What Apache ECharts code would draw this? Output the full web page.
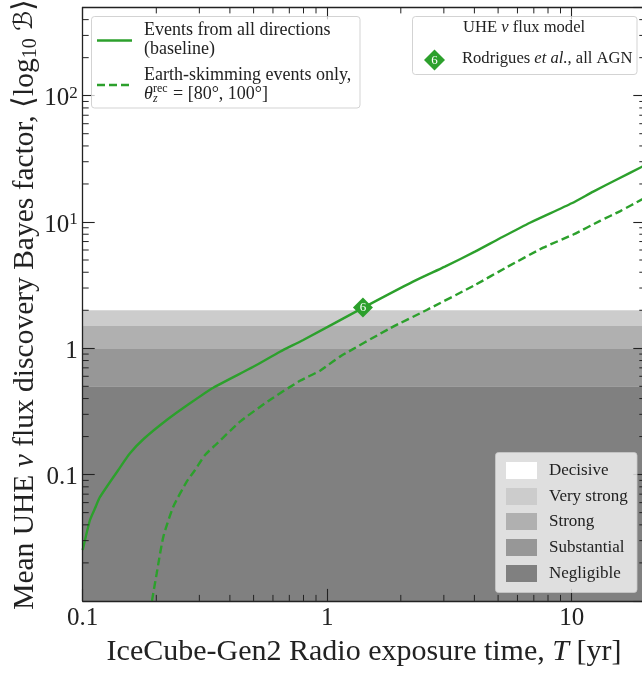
<!DOCTYPE html>
<html><head><meta charset="utf-8">
<style>html,body{margin:0;padding:0;background:#fff;overflow:hidden}#c{width:642px;height:675px}</style>
<script src="https://cdn.jsdelivr.net/npm/echarts@6/dist/echarts.min.js"></script>
</head><body><div id="c"></div>
<script>
const allDirectionsX=[0.1,0.1071,0.1123,0.1177,0.1398,0.1561,0.177,0.2206,0.2747,0.342,0.4986,0.641,0.798,1.405,2.244,3.03,4.02,5.09,6.75,10,12.25,15.3,19.4,20];
const allDirectionsY=[0.0253,0.0437,0.0541,0.0665,0.1087,0.1475,0.1905,0.2704,0.367,0.4875,0.714,0.94,1.164,2.097,3.37,4.43,5.82,7.43,9.87,14.06,17.4,21.7,27.4,28.2];
const skimmingX=[0.192,0.2008,0.2137,0.2347,0.2663,0.288,0.3164,0.3476,0.44,0.583,0.774,0.935,1.128,1.807,2.552,4.02,5.42,7.65,10.15,13.06,15.8,19.4,20];
const skimmingY=[0.01,0.01656,0.0322,0.0557,0.0879,0.1087,0.1429,0.17,0.2624,0.39,0.553,0.665,0.859,1.439,2.01,3.17,4.38,6.26,7.96,10.2,12.2,15.1,15.6];
const markerPoint=[1.4,2.1];
const bandNames=['Decisive','Very strong','Strong','Substantial','Negligible'];
const bandEdges=[0.01,0.5,1,1.5,2];
const bandColors=['#808080','#979797','#b0b0b0','#cccccc'];
const swatchColors=['#ffffff','#cccccc','#b0b0b0','#979797','#808080'];
const xMinorTicks=[0.2,0.3,0.4,0.5,0.6,0.7,0.8,0.9,2,3,4,5,6,7,8,9,20];
const yMinorTicks=[0.02,0.03,0.04,0.05,0.06,0.07,0.08,0.09,0.2,0.3,0.4,0.5,0.6,0.7,0.8,0.9,2,3,4,5,6,7,8,9,20,30,40,50,60,70,80,90,200,300,400];
const xMajorLabels={0.1:'0.1',1:'1',10:'10'};
const yMajorLabels={0.1:'{n|0.1}',1:'{n|1}',10:'{n|10}{s|1}',100:'{n|10}{s|2}'};

const F='"Liberation Serif",serif';
const GREEN='#2ca02c', INK='#222222';
const XMIN=0.1,XMAX=20,YMIN=0.01,YMAX=500;
const LF=18, LF2=16.6;
const legendRich={i:{fontFamily:F,fontSize:LF2,fontStyle:'italic',fill:INK},t:{fontFamily:F,fontSize:LF2,fill:INK}};

function hText(x,y,style){return {type:'text',x,y,z:60,zlevel:1,silent:true,style:Object.assign({font:LF+'px '+F,fill:INK,textVerticalAlign:'middle',rich:legendRich},style)};}
function box(x,y,w,h){return {type:'rect',z:50,zlevel:1,silent:true,shape:{x,y,width:w,height:h,r:3},style:{fill:'rgba(255,255,255,0.75)',stroke:'rgba(200,200,200,0.8)',lineWidth:1}};}

const graphics=[
 box(91.5,16.5,268.5,91.5),
 {type:'line',z:60,zlevel:1,silent:true,shape:{x1:97,y1:40.5,x2:132,y2:40.5},style:{stroke:GREEN,lineWidth:2.4}},
 {type:'line',z:60,zlevel:1,silent:true,shape:{x1:97,y1:85,x2:132,y2:85},style:{stroke:GREEN,lineWidth:2.4,lineDash:[8,4]}},
 hText(144,30,{text:'Events from all directions'}),
 hText(144,49,{text:'(baseline)'}),
 hText(144,75,{text:'Earth-skimming events only,'}),
 hText(144,94,{text:'θ',font:'italic '+LF+'px '+F}),
 hText(153,89,{text:'rec',font:'12px '+F}),
 hText(153,99,{text:'z',font:'italic 12px '+F}),
 hText(173,94,{text:'= [80°, 100°]'}),
 box(412.5,16.5,224.5,58),
 hText(463,28,{text:'{t|UHE }{i|ν}{t| flux model}'}),
 {type:'polygon',z:60,zlevel:1,silent:true,shape:{points:[[434.5,49.5],[445,60],[434.5,70.5],[424,60]]},style:{fill:GREEN}},
 hText(434.5,60.5,{text:'6',fill:'#ffffff',font:'13px '+F,textAlign:'center'}),
 hText(462,59,{text:'{t|Rodrigues }{i|et al.}{t|, all AGN}'}),
 box(495.5,452.5,141.5,140)
];
const swatchTops=[462,488,513,539,565];
bandNames.forEach((n,i)=>{
 graphics.push({type:'rect',z:60,zlevel:1,silent:true,shape:{x:506,y:swatchTops[i],width:31,height:17},style:{fill:swatchColors[i]}});
 graphics.push(hText(549,swatchTops[i]+9,{text:n,font:'17px '+F}));
});

const tickSeries=(vals,dir)=>({
 type:'custom',coordinateSystem:'cartesian2d',z:6,silent:true,clip:false,
 data:vals.map(v=>[v]),encode:{x:-1,y:-1},
 renderItem(params,api){
  const v=api.value(0),L=6,out=[];
  const seg=(a,b)=>({type:'line',shape:{x1:a[0],y1:a[1],x2:b[0],y2:b[1]},style:{stroke:INK,lineWidth:1}});
  if(dir==='x'){
   const a=api.coord([v,YMIN]),b=api.coord([v,YMAX]);
   out.push(seg(a,[a[0],a[1]-L]),seg(b,[b[0],b[1]+L]));
  }else{
   const a=api.coord([XMIN,v]),b=api.coord([XMAX,v]);
   out.push(seg(a,[a[0]+L,a[1]]),seg(b,[b[0]-L,b[1]]));
  }
  return {type:'group',children:out};
 }
});

const zip=(a,b)=>a.map((v,i)=>[v,b[i]]);
const axisLine={show:true,onZero:false,lineStyle:{color:INK,width:1.3}};
const axisTick={show:true,inside:true,length:12,lineStyle:{color:INK,width:1.1}};

const chart=echarts.init(document.getElementById('c'),null,{renderer:'canvas'});
chart.setOption({
 animation:false,backgroundColor:'#fff',
 grid:{left:82.7,top:7.4,width:562.6,height:593.5,containLabel:false,outerBoundsMode:'none'},
 xAxis:[
  {type:'log',logBase:10,min:XMIN,max:XMAX,position:'bottom',z:5,axisLine,axisTick,splitLine:{show:false},minorTick:{show:false},
   axisLabel:{show:true,margin:5,color:INK,fontFamily:F,fontSize:25,showMinLabel:true,showMaxLabel:false,hideOverlap:false,
    formatter:v=>xMajorLabels[+(+v).toPrecision(3)]||''},
   name:'IceCube-Gen2 Radio exposure time, {i|T} [yr]',nameLocation:'middle',nameGap:36,
   nameTextStyle:{color:INK,fontFamily:F,fontSize:30,rich:{i:{fontStyle:'italic',fontFamily:F,fontSize:30,color:INK}}}},
  {type:'log',logBase:10,min:XMIN,max:XMAX,position:'top',z:5,axisLine,axisTick,splitLine:{show:false},axisLabel:{show:false}}
 ],
 yAxis:[
  {type:'log',logBase:10,min:YMIN,max:YMAX,position:'left',z:5,axisLine,axisTick,splitLine:{show:false},
   axisLabel:{show:true,margin:5,padding:[6,0,0,0],color:INK,fontFamily:F,showMinLabel:false,showMaxLabel:false,hideOverlap:false,
    rich:{n:{fontFamily:F,fontSize:25,color:INK},s:{fontFamily:F,fontSize:17,color:INK,verticalAlign:'top',padding:[0,0,10,0]}},
    formatter:v=>yMajorLabels[+(+v).toPrecision(3)]||''},
   name:'Mean UHE {i|ν} flux discovery Bayes factor, ⟨log{sub|10} {b|ℬ}⟩',nameLocation:'middle',nameGap:42,nameRotate:90,nameMoveOverlap:false,
   nameTextStyle:{color:INK,fontFamily:F,fontSize:29.5,rich:{i:{fontStyle:'italic',fontFamily:F,fontSize:29.5,color:INK},b:{fontFamily:'"DejaVu Sans"',fontSize:26,color:INK},sub:{fontFamily:F,fontSize:20,color:INK,verticalAlign:'bottom',padding:[10,0,0,0]}}}},
  {type:'log',logBase:10,min:YMIN,max:YMAX,position:'right',z:5,axisLine,axisTick,splitLine:{show:false},axisLabel:{show:false}}
 ],
 series:[
  {type:'line',z:1,data:[],silent:true,markArea:{silent:true,
    data:bandColors.map((c,i)=>[{yAxis:bandEdges[i],itemStyle:{color:c,opacity:1}},{yAxis:bandEdges[i+1]}])}},
  {type:'line',name:'Events from all directions',z:3,data:zip(allDirectionsX,allDirectionsY),showSymbol:false,smooth:0.2,lineStyle:{color:GREEN,width:2.4}},
  {type:'line',name:'Earth-skimming events only',z:3,data:zip(skimmingX,skimmingY),showSymbol:false,smooth:0.2,lineStyle:{color:GREEN,width:2.4,type:[8,4]}},
  {type:'scatter',z:4,data:[markerPoint],symbol:'diamond',symbolSize:20,itemStyle:{color:GREEN,opacity:1},
   label:{show:true,formatter:'6',position:'inside',color:'#fff',fontFamily:F,fontSize:13}},
  tickSeries(xMinorTicks,'x'),
  tickSeries(yMinorTicks,'y')
 ],
 graphic:graphics
});
</script></body></html>
